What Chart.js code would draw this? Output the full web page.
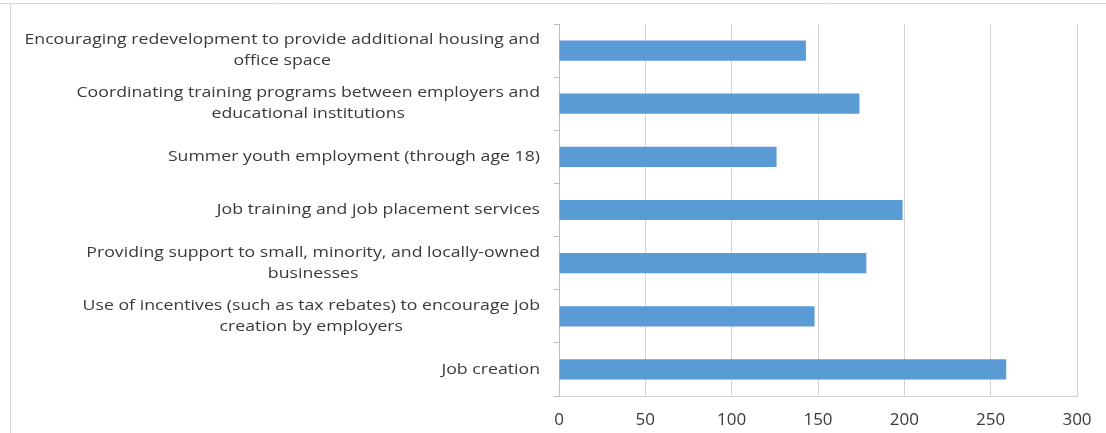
<!DOCTYPE html>
<html>
<head>
<meta charset="utf-8">
<script src="https://cdn.jsdelivr.net/npm/chart.js@4/dist/chart.umd.min.js"></script>
<style>
  html, body { margin: 0; padding: 0; background: #ffffff; }
  #wrap { width: 1106px; height: 433px; position: relative; }
</style>
</head>
<body>
<div id="wrap"><canvas id="c" width="1106" height="433"></canvas></div>
<script>
// Survey priorities (each label may wrap over two lines)
const categories = [
  ["Encouraging redevelopment to provide additional housing and", "office space"],
  ["Coordinating training programs between employers and", "educational institutions"],
  ["Summer youth employment (through age 18)"],
  ["Job training and job placement services"],
  ["Providing support to small, minority, and locally-owned", "businesses"],
  ["Use of incentives (such as tax rebates) to encourage job", "creation by employers"],
  ["Job creation"]
];
const responses = [143, 174, 126, 199, 178, 148, 259];
const valueTicks = [0, 50, 100, 150, 200, 250, 300];

const LABEL_FONT = '15px "Open Sans", "DejaVu Sans", sans-serif';
const LABEL_STRETCH = 1.18; // labels are set slightly wide

// Light frame around the chart panel
const panelFrame = {
  id: 'panelFrame',
  beforeDraw(chart) {
    const ctx = chart.ctx;
    ctx.save();
    ctx.strokeStyle = '#d9d9d9';
    ctx.lineWidth = 1;
    ctx.beginPath();
    ctx.moveTo(0, 3.5);
    ctx.lineTo(chart.width, 3.5);
    ctx.moveTo(10.5, 3.5);
    ctx.lineTo(10.5, chart.height);
    ctx.stroke();
    ctx.restore();
  }
};

// Category labels: block right-aligned against the axis, lines centred within the block
const wrappedLabels = {
  id: 'wrappedLabels',
  afterDraw(chart) {
    const yScale = chart.scales.y;
    const ctx = chart.ctx;
    ctx.save();
    const right = yScale.right - 19;
    ctx.translate(right, 0);
    ctx.scale(LABEL_STRETCH, 1);
    ctx.font = LABEL_FONT;
    ctx.fillStyle = '#3a3a3a';
    ctx.textAlign = 'center';
    ctx.textBaseline = 'middle';
    const lineHeight = 21;
    categories.forEach((lines, i) => {
      const cy = yScale.getPixelForTick(i);
      const w = Math.max(...lines.map(l => ctx.measureText(l).width));
      const cx = -w / 2;
      lines.forEach((l, k) => {
        ctx.fillText(l, cx, cy + (k - (lines.length - 1) / 2) * lineHeight);
      });
    });
    ctx.restore();
  }
};

new Chart(document.getElementById('c'), {
  type: 'bar',
  data: {
    labels: categories,
    datasets: [{
      data: responses,
      backgroundColor: '#5b9bd5',
      borderWidth: 0,
      barPercentage: 0.38,
      categoryPercentage: 1.0
    }]
  },
  options: {
    indexAxis: 'y',
    responsive: false,
    animation: false,
    layout: { padding: { top: 24, right: 29, bottom: 0, left: 0 } },
    plugins: {
      legend: { display: false },
      tooltip: { enabled: false }
    },
    scales: {
      x: {
        min: valueTicks[0],
        max: valueTicks[valueTicks.length - 1],
        afterBuildTicks(scale) {
          scale.ticks = valueTicks.map(v => ({ value: v }));
        },
        afterFit(scale) { scale.height = 37; },
        ticks: {
          color: '#3a3a3a',
          font: { family: '"Open Sans", "DejaVu Sans", sans-serif', size: 17 },
          padding: 14
        },
        grid: { color: '#d4d4d4', lineWidth: 1, drawTicks: false },
        border: { display: true, color: '#d4d4d4' }
      },
      y: {
        type: 'category',
        offset: true,
        ticks: { display: false },
        grid: {
          offset: true,
          drawOnChartArea: false,
          drawTicks: true,
          tickLength: 5,
          color: '#bfbfbf'
        },
        border: { display: true, color: '#bfbfbf' },
        afterFit(scale) { scale.width = 559; }
      }
    }
  },
  plugins: [panelFrame, wrappedLabels]
});
</script>
</body>
</html>
